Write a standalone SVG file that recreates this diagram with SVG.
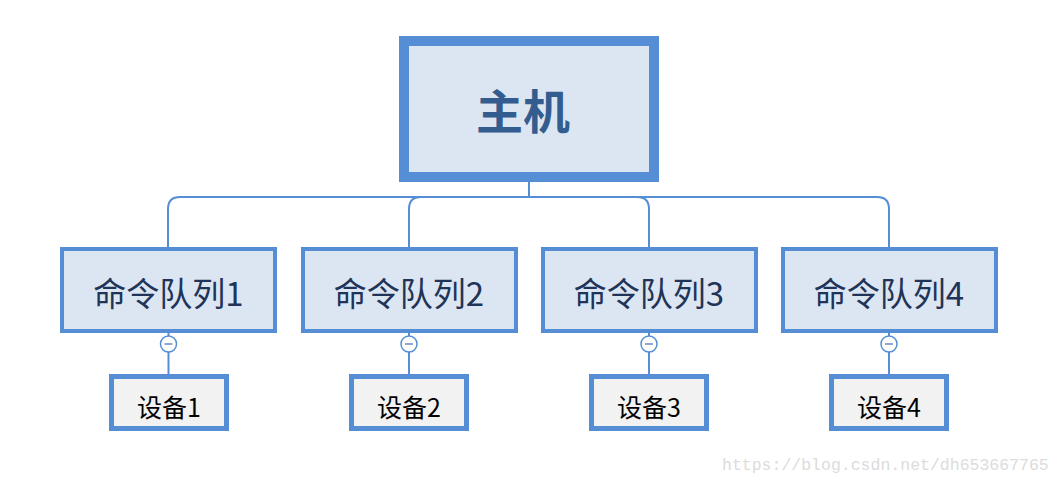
<svg xmlns="http://www.w3.org/2000/svg" width="1062" height="484" viewBox="0 0 1062 484">
<style>
.root{fill:#dce6f2;stroke:#558ed5;stroke-width:10}
.q{fill:#dce6f2;stroke:#558ed5;stroke-width:4}
.d{fill:#f2f2f2;stroke:#558ed5;stroke-width:5}
.conn{fill:none;stroke:#558ed5;stroke-width:2}
.tog{fill:#ffffff;stroke:#558ed5;stroke-width:1.5}
.minus{stroke:#8ea9cf;stroke-width:2}
.t0{font-family:"Noto Sans CJK SC","Noto Sans",sans-serif;font-weight:bold;font-size:47px;fill:#335d8f;text-anchor:middle}
.t1{font-family:"Noto Sans CJK SC","Noto Sans",sans-serif;font-size:33px;fill:#1f3458;text-anchor:middle}
.t2{font-family:"Noto Sans CJK SC","Noto Sans",sans-serif;font-size:25px;fill:#000000;text-anchor:middle}
.wm{font-family:"Liberation Mono","DejaVu Sans Mono",monospace;font-size:16.5px;fill:#dcdcdc}
</style>
<g id="connectors">
<path class="conn" d="M529 182 V197"/>
<path class="conn" d="M168 249 V209 Q168 197 180 197 H877 Q889 197 889 209 V249"/>
<path class="conn" d="M409 249 V209 Q409 197 421 197"/>
<path class="conn" d="M649 249 V209 Q649 197 637 197"/>
<path class="conn" d="M168.5 333 V376"/>
<path class="conn" d="M409 333 V376"/>
<path class="conn" d="M649 333 V376"/>
<path class="conn" d="M889 333 V376"/>
</g>
<g id="root">
<rect class="root" x="404" y="41" width="250" height="136"/>
<text class="t0" x="523" y="129">主机</text>
</g>
<g id="q1"><rect class="q" x="62" y="249" width="213" height="82"/><text class="t1" x="168.5" y="306">命令队列1</text></g>
<g id="q2"><rect class="q" x="303" y="249" width="213" height="82"/><text class="t1" x="409" y="306">命令队列2</text></g>
<g id="q3"><rect class="q" x="543" y="249" width="213" height="82"/><text class="t1" x="649" y="306">命令队列3</text></g>
<g id="q4"><rect class="q" x="783" y="249" width="213" height="82"/><text class="t1" x="889" y="306">命令队列4</text></g>
<g id="toggles">
<g><circle class="tog" cx="168.5" cy="344" r="8"/><path class="minus" d="M164.5 344 H172.5"/></g>
<g><circle class="tog" cx="409" cy="344" r="8"/><path class="minus" d="M405 344 H413"/></g>
<g><circle class="tog" cx="649" cy="344" r="8"/><path class="minus" d="M645 344 H653"/></g>
<g><circle class="tog" cx="889" cy="344" r="8"/><path class="minus" d="M885 344 H893"/></g>
</g>
<g id="d1"><rect class="d" x="111.5" y="376.5" width="115" height="52"/><text class="t2" x="169" y="417">设备1</text></g>
<g id="d2"><rect class="d" x="351.5" y="376.5" width="115" height="52"/><text class="t2" x="409" y="417">设备2</text></g>
<g id="d3"><rect class="d" x="591.5" y="376.5" width="115" height="52"/><text class="t2" x="649" y="417">设备3</text></g>
<g id="d4"><rect class="d" x="831.5" y="376.5" width="115" height="52"/><text class="t2" x="889" y="417">设备4</text></g>
<text class="wm" x="722" y="470">https://blog.csdn.net/dh653667765</text>
</svg>
